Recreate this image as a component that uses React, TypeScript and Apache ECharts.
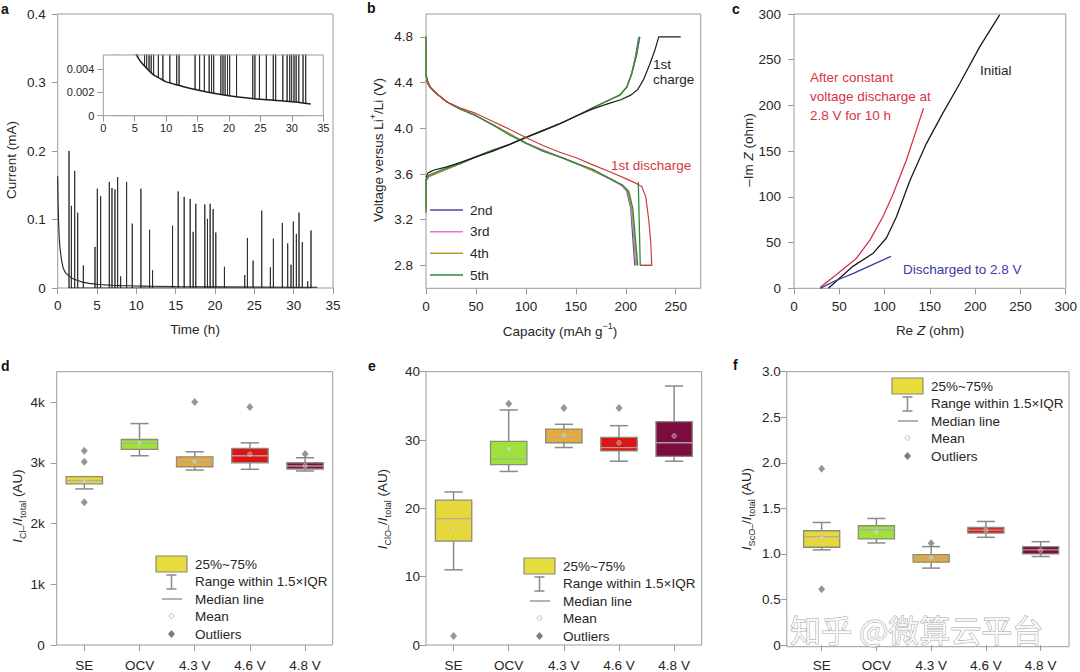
import React, { useEffect, useRef } from 'react';
import * as echarts from 'echarts';

const FONT = '"Liberation Sans", Arial, Helvetica, sans-serif';
const TXT = '#262626';
const FRAME = '#9b9b9b';
const FS = 13.5;

// ---------- Panel a : current vs time ----------
const decayTime = [0, 0.05, 0.1, 0.2, 0.3, 0.5, 0.7, 1, 1.5, 2, 3, 4, 5, 5.5, 6, 7, 8, 9, 10, 11, 12, 15, 20, 25, 30, 33];
const decayCurrent = [0.163, 0.125, 0.1, 0.072, 0.057, 0.04, 0.029, 0.022, 0.017, 0.013, 0.009, 0.0068, 0.0055, 0.005, 0.0046, 0.004, 0.0035, 0.0032, 0.0029, 0.00275, 0.0026, 0.0022, 0.0017, 0.0014, 0.0012, 0.001];
const spikeTime = [1.44, 1.74, 2.16, 2.54, 3.26, 4.74, 5.04, 5.46, 6.56, 6.9, 7.28, 7.62, 8.0, 8.76, 9.48, 10.58, 11.68, 12.06, 14.6, 15.32, 16.08, 16.84, 17.22, 17.56, 18.7, 19.04, 19.38, 19.76, 20.1, 21.2, 23.78, 24.12, 24.84, 25.94, 27.04, 27.42, 28.56, 29.24, 29.66, 29.96, 30.34, 30.68, 31.1, 31.78, 32.2];
const spikeCurrent = [0.2, 0.12, 0.171, 0.11, 0.033, 0.06, 0.145, 0.134, 0.155, 0.146, 0.144, 0.162, 0.017, 0.155, 0.094, 0.145, 0.085, 0.026, 0.091, 0.141, 0.133, 0.13, 0.082, 0.123, 0.122, 0.101, 0.123, 0.115, 0.081, 0.031, 0.019, 0.073, 0.04, 0.113, 0.03, 0.072, 0.095, 0.065, 0.034, 0.097, 0.079, 0.11, 0.067, 0.01, 0.084];
const aTimeTicks = [0, 5, 10, 15, 20, 25, 30, 35];
const insetCurrentTicks = [0, 0.002, 0.004];

// ---------- Panel b : voltage profiles ----------
const charge1 = [[0, 3.57], [2, 3.61], [8, 3.635], [20, 3.66], [34, 3.7], [50, 3.75], [67, 3.8], [84, 3.86], [100, 3.92], [117, 3.98], [134, 4.04], [151, 4.11], [167, 4.17], [184, 4.22], [195, 4.25], [205, 4.29], [212, 4.34], [218, 4.43], [224, 4.56], [229, 4.68], [233, 4.8], [255, 4.8]];
const discharge1 = [[0, 4.42], [3, 4.37], [11, 4.3], [21, 4.23], [34, 4.18], [50, 4.13], [67, 4.06], [84, 3.99], [100, 3.92], [117, 3.85], [134, 3.79], [151, 3.74], [167, 3.68], [184, 3.62], [200, 3.56], [210, 3.52], [216, 3.49], [220, 3.4], [223, 3.2], [225, 3.0], [226, 2.8], [215, 2.8]];
const charge2 = [[0, 3.3], [0, 3.54], [3, 3.58], [17, 3.63], [34, 3.69], [50, 3.75], [67, 3.81], [84, 3.86], [100, 3.92], [117, 3.98], [134, 4.04], [151, 4.11], [167, 4.18], [184, 4.25], [194, 4.29], [201, 4.36], [206, 4.48], [210, 4.64], [213, 4.8]];
const discharge2 = [[0, 4.8], [0, 4.46], [2, 4.4], [5, 4.35], [11, 4.3], [21, 4.23], [34, 4.17], [50, 4.11], [67, 4.03], [84, 3.95], [100, 3.87], [117, 3.81], [134, 3.75], [151, 3.69], [167, 3.63], [184, 3.56], [196, 3.5], [201, 3.45], [205, 3.3], [207, 3.05], [209, 2.8]];
const charge3 = [[0, 3.3], [0, 3.55], [3, 3.58], [17, 3.63], [34, 3.69], [50, 3.75], [67, 3.81], [84, 3.86], [100, 3.92], [117, 3.98], [134, 4.04], [151, 4.11], [167, 4.18], [184, 4.25], [194, 4.29], [201, 4.36], [206, 4.48], [211, 4.65], [213.5, 4.8]];
const discharge3 = [[0, 4.8], [0, 4.46], [2, 4.4], [5, 4.35], [11, 4.3], [21, 4.23], [34, 4.17], [50, 4.11], [67, 4.03], [84, 3.95], [100, 3.87], [117, 3.81], [134, 3.75], [151, 3.69], [167, 3.63], [184, 3.56], [196, 3.5], [202, 3.45], [205.5, 3.3], [208, 3.05], [210, 2.8]];
const charge4 = [[0, 3.28], [0, 3.55], [3, 3.58], [17, 3.63], [34, 3.69], [50, 3.75], [67, 3.81], [84, 3.86], [100, 3.92], [117, 3.98], [134, 4.04], [151, 4.11], [167, 4.18], [184, 4.25], [194, 4.29], [201, 4.36], [206, 4.48], [211, 4.65], [214, 4.8]];
const discharge4 = [[0, 4.8], [0, 4.46], [2, 4.4], [5, 4.35], [11, 4.3], [21, 4.23], [34, 4.17], [50, 4.11], [67, 4.03], [84, 3.95], [100, 3.87], [117, 3.8], [134, 3.75], [151, 3.69], [167, 3.63], [184, 3.56], [197, 3.5], [202, 3.45], [206, 3.3], [208.5, 3.05], [211, 2.8]];
const charge5 = [[0, 3.26], [0, 3.55], [3, 3.59], [17, 3.64], [34, 3.69], [50, 3.75], [67, 3.81], [84, 3.86], [100, 3.92], [117, 3.98], [134, 4.04], [151, 4.11], [167, 4.18], [184, 4.25], [194, 4.29], [201, 4.36], [206, 4.48], [211, 4.65], [214, 4.8]];
const discharge5 = [[0, 4.8], [0, 4.47], [2, 4.4], [5, 4.35], [11, 4.3], [21, 4.23], [34, 4.17], [50, 4.11], [67, 4.03], [84, 3.94], [100, 3.87], [117, 3.8], [134, 3.75], [151, 3.69], [167, 3.64], [184, 3.56], [197, 3.5], [203, 3.45], [207, 3.3], [209.5, 3.05], [212, 2.8]];
const cycle5Tail = [[212.5, 3.53], [214.5, 2.8], [225, 2.8]];
const capTicks = [0, 50, 100, 150, 200, 250];
const voltTicks = [2.8, 3.2, 3.6, 4.0, 4.4, 4.8];
const cycleNames = ['2nd', '3rd', '4th', '5th'];
const cycleColors = ['#4b4ba6', '#e272e2', '#aaa22c', '#2e8a3c'];

// ---------- Panel c : Nyquist ----------
const initialRe = [38, 65, 87, 102, 113, 128, 146, 164, 183, 205, 227];
const initialIm = [0, 24, 38, 55, 78, 118, 158, 191, 224, 264, 299];
const cvRe = [29, 47, 69, 84, 98, 109, 124, 135, 143];
const cvIm = [1, 15, 33, 53, 78, 102, 140, 173, 197];
const dischargedRe = [29, 45, 65, 85, 107];
const dischargedIm = [0, 8, 16, 25, 35];
const zTicks = [0, 50, 100, 150, 200, 250, 300];

// ---------- Panels d, e, f : box plots ----------
const boxCategories = ['SE', 'OCV', '4.3 V', '4.6 V', '4.8 V'];
const boxColors = ['#e6d83c', '#9fe23c', '#e4aa3a', '#dc1616', '#7c0c40'];
// [lower whisker, Q1, median, Q3, upper whisker]
const dStats = [
  [2570, 2652, 2706, 2772, 2772],
  [3116, 3220, 3319, 3384, 3646],
  [2881, 2935, 3017, 3099, 3181],
  [2893, 3001, 3116, 3237, 3329],
  [2865, 2898, 2947, 3001, 3083],
];
const dMeans = [2705, 3325, 3020, 3140, 2950];
const dOutliers = [[0, 3198], [0, 3017], [0, 2352], [2, 4000], [3, 3918], [4, 3143]];
const dTicks = [0, 1000, 2000, 3000, 4000];

const eStats = [
  [11.0, 15.2, 18.5, 21.2, 22.4],
  [25.4, 26.4, 27.2, 29.8, 34.4],
  [28.9, 29.6, 30.4, 31.6, 32.3],
  [26.9, 28.4, 28.9, 30.4, 32.1],
  [26.9, 27.6, 29.6, 32.7, 37.9],
];
const eMeans = [17.1, 28.7, 30.7, 29.6, 30.6];
const eOutliers = [[0, 1.3], [1, 35.3], [2, 34.7], [3, 34.7]];
const eTicks = [0, 10, 20, 30, 40];

const fStats = [
  [1.044, 1.073, 1.189, 1.254, 1.345],
  [1.12, 1.164, 1.265, 1.309, 1.389],
  [0.844, 0.909, 0.956, 0.993, 1.08],
  [1.182, 1.229, 1.262, 1.29, 1.356],
  [0.971, 1.0, 1.044, 1.08, 1.134],
];
const fMeans = [1.18, 1.24, 0.96, 1.26, 1.04];
const fOutliers = [[0, 1.934], [0, 0.611], [2, 1.116]];
const fTicks = [0, 0.5, 1.0, 1.5, 2.0, 2.5, 3.0];

const legendLabels = ['25%~75%', 'Range within 1.5×IQR', 'Median line', 'Mean', 'Outliers'];

// ---------- helpers ----------
const zip = (xs: number[], ys: number[]) => xs.map((x, i) => [x, ys[i]]);

const tickStyle = { show: true, length: 6, lineStyle: { color: FRAME, width: 1 } };
const labelStyle = (margin: number, extra: any = {}) => ({ color: TXT, fontSize: FS, fontFamily: FONT, margin, ...extra });

function valueAxis(gridIndex: number, min: number, max: number, ticks: number[], margin: number, extra: any = {}, labelExtra: any = {}) {
  return {
    type: 'value', gridIndex, min, max,
    axisLine: { show: false },
    axisTick: { ...tickStyle, customValues: ticks },
    axisLabel: { ...labelStyle(margin, labelExtra), customValues: ticks },
    splitLine: { show: false },
    ...extra,
  };
}
function catAxis(gridIndex: number, margin: number) {
  return {
    type: 'category', gridIndex, data: boxCategories,
    axisLine: { show: false },
    axisTick: { ...tickStyle, alignWithLabel: true },
    axisLabel: labelStyle(margin),
    splitLine: { show: false },
  };
}

function lineSeries(axis: number, data: any[], color: string, width = 1.2, extra: any = {}) {
  return {
    type: 'line', xAxisIndex: axis, yAxisIndex: axis, data, showSymbol: false, symbol: 'none',
    lineStyle: { color, width }, silent: true, animation: false, ...extra,
  };
}

function boxSeries(axis: number, stats: number[][]) {
  return {
    type: 'custom', xAxisIndex: axis, yAxisIndex: axis, silent: true,
    data: stats.map((s, i) => [i, ...s]),
    encode: { x: 0, y: [1, 2, 3, 4, 5] },
    z: 2,
    renderItem: (params: any, api: any) => {
      const idx = api.value(0);
      const pLo = api.coord([idx, api.value(1)]);
      const pQ1 = api.coord([idx, api.value(2)]);
      const pMed = api.coord([idx, api.value(3)]);
      const pQ3 = api.coord([idx, api.value(4)]);
      const pHi = api.coord([idx, api.value(5)]);
      const band = api.size([1, 0])[0];
      const w = band * 0.66;
      const cw = w * 0.5;
      const cx = pMed[0];
      const ws = { stroke: '#8a8a8a', lineWidth: 1.5 };
      return {
        type: 'group',
        children: [
          { type: 'line', shape: { x1: cx, y1: pHi[1], x2: cx, y2: pQ3[1] }, style: ws },
          { type: 'line', shape: { x1: cx, y1: pQ1[1], x2: cx, y2: pLo[1] }, style: ws },
          { type: 'line', shape: { x1: cx - cw / 2, y1: pHi[1], x2: cx + cw / 2, y2: pHi[1] }, style: ws },
          { type: 'line', shape: { x1: cx - cw / 2, y1: pLo[1], x2: cx + cw / 2, y2: pLo[1] }, style: ws },
          { type: 'rect', shape: { x: cx - w / 2, y: pQ3[1], width: w, height: pQ1[1] - pQ3[1] }, style: { fill: boxColors[params.dataIndex], stroke: '#8c8c7c', lineWidth: 1.3 } },
          { type: 'line', shape: { x1: cx - w / 2, y1: pMed[1], x2: cx + w / 2, y2: pMed[1] }, style: { stroke: 'rgba(170,170,170,0.9)', lineWidth: 1.3 } },
        ],
      };
    },
  };
}
function meanSeries(axis: number, means: number[]) {
  return {
    type: 'scatter', xAxisIndex: axis, yAxisIndex: axis, silent: true, z: 4,
    data: means.map((m, i) => [i, m]), symbol: 'circle', symbolSize: 4.5,
    itemStyle: { color: 'rgba(255,255,255,0.35)', borderColor: '#b8b8b8', borderWidth: 0.9 },
  };
}
function outlierSeries(axis: number, pts: number[][]) {
  return {
    type: 'scatter', xAxisIndex: axis, yAxisIndex: axis, silent: true, z: 4,
    data: pts, symbol: 'diamond', symbolSize: [7, 8], itemStyle: { color: '#7c7c7c' },
  };
}

const txt = (x: number, y: number, text: string, o: any = {}) => ({
  type: 'text', x, y, rotation: o.rot || 0, silent: true, z: 20,
  style: {
    text, fill: o.color || TXT, fontSize: o.size || FS, fontFamily: FONT,
    fontWeight: o.weight || 'normal', fontStyle: o.style || 'normal',
    align: o.align || 'left', textAlign: o.align || 'left',
    verticalAlign: 'middle', textVerticalAlign: 'middle',
    rich: o.rich,
  },
});

const rich = {
  n: { fontSize: FS, fontFamily: FONT, fill: TXT, color: TXT, lineHeight: 20, verticalAlign: 'middle' },
  it: { fontSize: FS, fontFamily: FONT, fill: TXT, color: TXT, fontStyle: 'italic', lineHeight: 20, verticalAlign: 'middle' },
  sub: { fontSize: 9, fontFamily: FONT, fill: TXT, color: TXT, lineHeight: 20, verticalAlign: 'bottom' },
  sup: { fontSize: 9, fontFamily: FONT, fill: TXT, color: TXT, lineHeight: 20, verticalAlign: 'top' },
};

function boxLegend(x0: number, y0: number) {
  const cx = x0 + 15.5;
  const ws = { stroke: '#8a8a8a', lineWidth: 1.5 };
  return [
    { type: 'rect', z: 20, silent: true, shape: { x: x0, y: y0, width: 31, height: 16 }, style: { fill: '#e6dc3c', stroke: '#8c8c7c', lineWidth: 1.2 } },
    { type: 'line', z: 20, silent: true, shape: { x1: cx, y1: y0 + 19, x2: cx, y2: y0 + 33 }, style: ws },
    { type: 'line', z: 20, silent: true, shape: { x1: cx - 5, y1: y0 + 19, x2: cx + 5, y2: y0 + 19 }, style: ws },
    { type: 'line', z: 20, silent: true, shape: { x1: cx - 5, y1: y0 + 33, x2: cx + 5, y2: y0 + 33 }, style: ws },
    { type: 'line', z: 20, silent: true, shape: { x1: x0 + 6, y1: y0 + 43, x2: x0 + 26, y2: y0 + 43 }, style: { stroke: '#8a8a8a', lineWidth: 1.3 } },
    { type: 'circle', z: 20, silent: true, shape: { cx, cy: y0 + 60, r: 2.2 }, style: { fill: '#fff', stroke: '#b8b8b8', lineWidth: 0.9 } },
    { type: 'polygon', z: 20, silent: true, shape: { points: [[cx, y0 + 74], [cx + 3.5, y0 + 78], [cx, y0 + 82], [cx - 3.5, y0 + 78]] }, style: { fill: '#7c7c7c' } },
    txt(x0 + 39, y0 + 8.5, legendLabels[0]),
    txt(x0 + 39, y0 + 25.5, legendLabels[1]),
    txt(x0 + 39, y0 + 43, legendLabels[2]),
    txt(x0 + 39, y0 + 60.5, legendLabels[3]),
    txt(x0 + 39, y0 + 78, legendLabels[4]),
  ];
}

function buildOption() {
  const spikeLine = spikeTime.flatMap((t, i) => [[t, 0], [t, spikeCurrent[i]], [t, 0]]);
  const decay = zip(decayTime, decayCurrent);

  const grids = [
    { left: 57.7, top: 14, width: 275.3, height: 274 },
    { left: 103.3, top: 55, width: 220, height: 60.7, z: 10 },
    { left: 426, top: 14, width: 274.7, height: 274.3 },
    { left: 794, top: 14, width: 273, height: 274.3 },
    { left: 56.7, top: 371.7, width: 276, height: 274.3 },
    { left: 426, top: 371.7, width: 275.7, height: 275 },
    { left: 794.3, top: 371.7, width: 273.7, height: 275, show: false },
  ].map((g: any) => ({ show: true, borderColor: FRAME, borderWidth: 1, backgroundColor: 'transparent', containLabel: false, ...g }));

  const xAxis = [
    valueAxis(0, 0, 35, aTimeTicks, 10),
    valueAxis(1, 0, 35, aTimeTicks, 7, { z: 10 }, { fontSize: 11 }),
    valueAxis(2, 0, 275, capTicks, 11),
    valueAxis(3, 0, 300, zTicks, 11),
    catAxis(4, 13),
    catAxis(5, 13),
    catAxis(6, 13),
  ];
  const yAxis = [
    valueAxis(0, 0, 0.4, [0, 0.1, 0.2, 0.3, 0.4], 12),
    valueAxis(1, 0, 0.0052, insetCurrentTicks, 9, { z: 10 }, { fontSize: 11, formatter: (v: number) => (v === 0 ? '0' : v.toFixed(3)) }),
    valueAxis(2, 2.6, 5.0, voltTicks, 13, {}, { formatter: (v: number) => v.toFixed(1) }),
    valueAxis(3, 0, 300, zTicks, 13),
    valueAxis(4, 0, 4500, dTicks, 12, {}, { formatter: (v: number) => (v === 0 ? '0' : v / 1000 + 'k') }),
    valueAxis(5, 0, 40, eTicks, 6),
    valueAxis(6, 0, 3, fTicks, 6, { offset: 7.5 }, { formatter: (v: number) => (v === 0 ? '0' : v.toFixed(1)) }),
  ];

  const bCharges = [charge2, charge3, charge4, charge5];
  const bDischarges = [discharge2, discharge3, discharge4, discharge5];

  const series: any[] = [
    lineSeries(0, decay, '#1e1e1e', 1.1),
    lineSeries(0, spikeLine, '#2a2a2a', 0.9),
    lineSeries(1, spikeLine, '#2a2a2a', 0.9, { z: 2 }),
    lineSeries(1, decay, '#1e1e1e', 1.5, { z: 3, smooth: 0.3, areaStyle: { color: '#ffffff', opacity: 1 } }),
  ];
  cycleNames.forEach((n, i) => {
    series.push(lineSeries(2, bCharges[i], cycleColors[i], 1.3));
    series.push(lineSeries(2, bDischarges[i], cycleColors[i], 1.3));
  });
  series.push(lineSeries(2, cycle5Tail, cycleColors[3], 1.3));
  series.push(lineSeries(2, charge1, '#1a1a1a', 1.2));
  series.push(lineSeries(2, discharge1, '#d23a40', 1.2));
  series.push(lineSeries(3, zip(initialRe, initialIm), '#1a1a1a', 1.3));
  series.push(lineSeries(3, zip(cvRe, cvIm), '#d8324a', 1.3));
  series.push(lineSeries(3, zip(dischargedRe, dischargedIm), '#3a3aa6', 1.3));

  [[4, dStats, dMeans, dOutliers], [5, eStats, eMeans, eOutliers], [6, fStats, fMeans, fOutliers]].forEach((p: any) => {
    series.push(boxSeries(p[0], p[1]));
    series.push(meanSeries(p[0], p[2]));
    series.push(outlierSeries(p[0], p[3]));
  });

  const graphic: any[] = [
    // panel letters
    txt(1, 9, 'a', { weight: 'bold', size: 14, color: '#111' }),
    txt(367, 8, 'b', { weight: 'bold', size: 14, color: '#111' }),
    txt(732, 9, 'c', { weight: 'bold', size: 14, color: '#111' }),
    txt(1, 366, 'd', { weight: 'bold', size: 14, color: '#111' }),
    txt(368, 366, 'e', { weight: 'bold', size: 14, color: '#111' }),
    txt(733, 365, 'f', { weight: 'bold', size: 14, color: '#111' }),
    // axis titles
    txt(11, 160, 'Current (mA)', { rot: Math.PI / 2, align: 'center' }),
    txt(195, 329, 'Time (h)', { align: 'center' }),
    txt(378, 150, '{n|Voltage versus Li}{sup|+}{n|/Li (V)}', { rot: Math.PI / 2, align: 'center', rich }),
    txt(560, 331, '{n|Capacity (mAh g}{sup|−1}{n|)}', { align: 'center', rich }),
    txt(748, 150, '{n|–Im }{it|Z}{n| (ohm)}', { rot: Math.PI / 2, align: 'center', rich }),
    txt(930, 330, '{n|Re }{it|Z}{n| (ohm)}', { align: 'center', rich }),
    txt(17, 506, '{it|I}{sub|Cl–}{n|/}{it|I}{sub|total}{n| (AU)}', { rot: Math.PI / 2, align: 'center', rich }),
    txt(382, 509, '{it|I}{sub|ClO–}{n|/}{it|I}{sub|total}{n| (AU)}', { rot: Math.PI / 2, align: 'center', rich }),
    txt(746, 509, '{it|I}{sub|ScO–}{n|/}{it|I}{sub|total}{n| (AU)}', { rot: Math.PI / 2, align: 'center', rich }),
    // panel b annotations & legend
    txt(653, 64, '1st'),
    txt(653, 79.5, 'charge'),
    txt(611, 165, '1st discharge', { color: '#d23a40' }),
    // panel c annotations
    txt(810, 77.5, 'After constant', { color: '#d8324a' }),
    txt(810, 96.5, 'voltage discharge at', { color: '#d8324a' }),
    txt(810, 115.5, '2.8 V for 10 h', { color: '#d8324a' }),
    txt(980, 70, 'Initial'),
    txt(903, 269.5, 'Discharged to 2.8 V', { color: '#3a3aa6' }),
    // panel f frame
    { type: 'rect', z: 1, silent: true, shape: { x: 786.8, y: 371.7, width: 282.2, height: 275 }, style: { fill: 'none', stroke: FRAME, lineWidth: 1 } },
    ...boxLegend(156, 556),
    ...boxLegend(524, 558),
    ...boxLegend(892, 378),
    // watermark
    {
      type: 'text', x: 790, y: 628, silent: true, z: 30,
      style: {
        text: '知乎 @微算云平台', fontSize: 31, fontFamily: '"Noto Sans CJK SC", sans-serif',
        fill: 'rgba(255,255,255,0.75)', stroke: 'rgba(110,110,110,0.6)', lineWidth: 1,
        align: 'left', textAlign: 'left', verticalAlign: 'middle', textVerticalAlign: 'middle',
      },
    },
  ];
  const legendY = [210, 231.7, 253.3, 275];
  cycleNames.forEach((n, i) => {
    graphic.push({ type: 'line', z: 20, silent: true, shape: { x1: 430, y1: legendY[i], x2: 463, y2: legendY[i] }, style: { stroke: cycleColors[i], lineWidth: 1.5 } });
    graphic.push(txt(470, legendY[i], n));
  });

  return {
    animation: false,
    backgroundColor: '#ffffff',
    textStyle: { fontFamily: FONT },
    grid: grids,
    xAxis,
    yAxis,
    series,
    graphic: { elements: graphic },
  };
}

export default function App() {
  const ref = useRef<HTMLDivElement>(null);
  useEffect(() => {
    if (!ref.current) return;
    const chart = echarts.init(ref.current, undefined, { renderer: 'svg' });
    chart.setOption(buildOption() as any);
    return () => chart.dispose();
  }, []);
  return <div ref={ref} style={{ position: 'fixed', left: 0, top: 0, width: 1080, height: 672, background: '#fff' }} />;
}
